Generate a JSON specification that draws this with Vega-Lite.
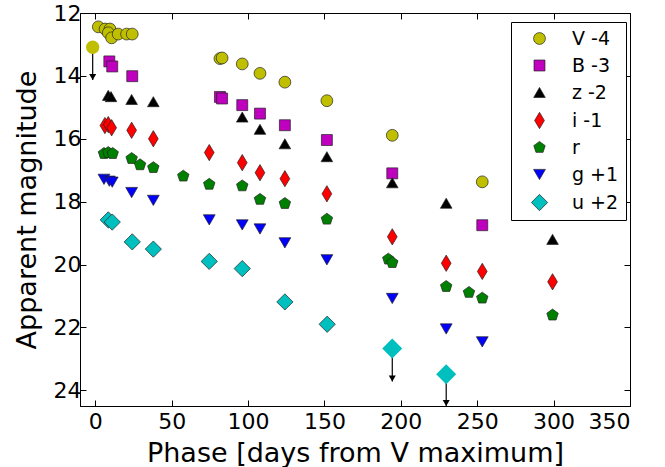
{
  "$schema": "https://vega.github.io/schema/vega-lite/v6.json",
  "autosize": {"type": "none"},
  "width": 550,
  "height": 393,
  "padding": {"left": 80, "top": 13, "right": 35, "bottom": 61},
  "background": "white",
  "config": {
    "font": "DejaVu Sans",
    "view": {"stroke": "black", "strokeWidth": 1},
    "axis": {
      "domainColor": "black",
      "tickColor": "black",
      "labelColor": "black",
      "titleColor": "black",
      "grid": false,
      "labelFont": "DejaVu Sans",
      "titleFont": "DejaVu Sans",
      "titleFontWeight": "normal",
      "labelFontSize": 22,
      "titleFontSize": 27,
      "tickSize": -6,
      "tickWidth": 1
    }
  },
  "datasets": {
    "obs": [
      {"band": "V -4", "phase": 2, "mag": 12.44},
      {"band": "V -4", "phase": 6.4, "mag": 12.51},
      {"band": "V -4", "phase": 9.6, "mag": 12.51},
      {"band": "V -4", "phase": 8.5, "mag": 12.63},
      {"band": "V -4", "phase": 10.7, "mag": 12.79},
      {"band": "V -4", "phase": 15, "mag": 12.67},
      {"band": "V -4", "phase": 20.5, "mag": 12.67},
      {"band": "V -4", "phase": 24.2, "mag": 12.67},
      {"band": "V -4", "phase": 81.6, "mag": 13.45},
      {"band": "V -4", "phase": 83, "mag": 13.43},
      {"band": "V -4", "phase": 96.2, "mag": 13.62},
      {"band": "V -4", "phase": 107.8, "mag": 13.92},
      {"band": "V -4", "phase": 124.1, "mag": 14.2},
      {"band": "V -4", "phase": 151.6, "mag": 14.79},
      {"band": "V -4", "phase": 194.4, "mag": 15.89},
      {"band": "V -4", "phase": 253.3, "mag": 17.37},
      {"band": "B -3", "phase": 9.2, "mag": 13.54},
      {"band": "B -3", "phase": 11.1, "mag": 13.7},
      {"band": "B -3", "phase": 24.2, "mag": 14.01},
      {"band": "B -3", "phase": 81.6, "mag": 14.67},
      {"band": "B -3", "phase": 83, "mag": 14.72},
      {"band": "B -3", "phase": 96.2, "mag": 14.93},
      {"band": "B -3", "phase": 107.8, "mag": 15.2},
      {"band": "B -3", "phase": 124.1, "mag": 15.57},
      {"band": "B -3", "phase": 151.6, "mag": 16.04},
      {"band": "B -3", "phase": 194.4, "mag": 17.1},
      {"band": "B -3", "phase": 253.3, "mag": 18.75},
      {"band": "z -2", "phase": 8.5, "mag": 14.62},
      {"band": "z -2", "phase": 10.3, "mag": 14.66},
      {"band": "z -2", "phase": 23.8, "mag": 14.75},
      {"band": "z -2", "phase": 38, "mag": 14.82},
      {"band": "z -2", "phase": 96.2, "mag": 15.31},
      {"band": "z -2", "phase": 107.8, "mag": 15.7},
      {"band": "z -2", "phase": 124.1, "mag": 16.16},
      {"band": "z -2", "phase": 151.6, "mag": 16.57},
      {"band": "z -2", "phase": 194.4, "mag": 17.4},
      {"band": "z -2", "phase": 229.7, "mag": 18.05},
      {"band": "z -2", "phase": 299.3, "mag": 19.2},
      {"band": "i -1", "phase": 6.3, "mag": 15.58},
      {"band": "i -1", "phase": 8.5, "mag": 15.55},
      {"band": "i -1", "phase": 10.7, "mag": 15.65},
      {"band": "i -1", "phase": 23.8, "mag": 15.73},
      {"band": "i -1", "phase": 38, "mag": 16.0},
      {"band": "i -1", "phase": 74.6, "mag": 16.44},
      {"band": "i -1", "phase": 96.2, "mag": 16.76},
      {"band": "i -1", "phase": 107.8, "mag": 17.08},
      {"band": "i -1", "phase": 124.1, "mag": 17.27},
      {"band": "i -1", "phase": 151.6, "mag": 17.75},
      {"band": "i -1", "phase": 194.4, "mag": 19.12},
      {"band": "i -1", "phase": 229.7, "mag": 19.96},
      {"band": "i -1", "phase": 253.3, "mag": 20.22},
      {"band": "i -1", "phase": 299.3, "mag": 20.55},
      {"band": "r", "phase": 5.7, "mag": 16.47},
      {"band": "r", "phase": 8.5, "mag": 16.44},
      {"band": "r", "phase": 11.4, "mag": 16.47},
      {"band": "r", "phase": 23.8, "mag": 16.63},
      {"band": "r", "phase": 29.3, "mag": 16.83},
      {"band": "r", "phase": 38, "mag": 16.92},
      {"band": "r", "phase": 57.6, "mag": 17.19},
      {"band": "r", "phase": 74.6, "mag": 17.45},
      {"band": "r", "phase": 96.2, "mag": 17.5},
      {"band": "r", "phase": 107.8, "mag": 17.93},
      {"band": "r", "phase": 124.1, "mag": 18.06},
      {"band": "r", "phase": 151.6, "mag": 18.56},
      {"band": "r", "phase": 191.8, "mag": 19.83},
      {"band": "r", "phase": 194.4, "mag": 19.94},
      {"band": "r", "phase": 229.7, "mag": 20.7},
      {"band": "r", "phase": 244.6, "mag": 20.89},
      {"band": "r", "phase": 253.3, "mag": 21.07},
      {"band": "r", "phase": 299.3, "mag": 21.61},
      {"band": "g +1", "phase": 5.7, "mag": 17.29},
      {"band": "g +1", "phase": 9.2, "mag": 17.35},
      {"band": "g +1", "phase": 11.1, "mag": 17.38},
      {"band": "g +1", "phase": 23.8, "mag": 17.71},
      {"band": "g +1", "phase": 38, "mag": 17.96},
      {"band": "g +1", "phase": 74.6, "mag": 18.58},
      {"band": "g +1", "phase": 96.2, "mag": 18.74},
      {"band": "g +1", "phase": 107.8, "mag": 18.87},
      {"band": "g +1", "phase": 124.1, "mag": 19.31},
      {"band": "g +1", "phase": 151.6, "mag": 19.85},
      {"band": "g +1", "phase": 194.4, "mag": 21.08},
      {"band": "g +1", "phase": 229.7, "mag": 22.05},
      {"band": "g +1", "phase": 253.3, "mag": 22.46},
      {"band": "u +2", "phase": 8.5, "mag": 18.58},
      {"band": "u +2", "phase": 11.1, "mag": 18.65},
      {"band": "u +2", "phase": 24.2, "mag": 19.28},
      {"band": "u +2", "phase": 38, "mag": 19.51},
      {"band": "u +2", "phase": 74.6, "mag": 19.9},
      {"band": "u +2", "phase": 96.2, "mag": 20.13},
      {"band": "u +2", "phase": 124.1, "mag": 21.19},
      {"band": "u +2", "phase": 151.8, "mag": 21.9}
    ],
    "limits": [
      {"band": "V -4", "phase": -1.7, "mag": 13.09, "tip": 14.13},
      {"band": "u +2", "phase": 194.4, "mag": 22.67, "tip": 23.72},
      {"band": "u +2", "phase": 229.7, "mag": 23.49, "tip": 24.5}
    ]
  },
  "resolve": {"axis": {"x": "independent", "y": "independent"}},
  "layer": [
    {
      "data": {"name": "obs"},
      "mark": {"type": "point", "filled": true, "opacity": 1, "stroke": "#222222", "strokeWidth": 0.7},
      "encoding": {
        "x": {
          "field": "phase", "type": "quantitative",
          "scale": {"domain": [-10, 350], "nice": false, "zero": false},
          "axis": {"values": [0, 50, 100, 150, 200, 250, 300, 350], "title": "Phase [days from V maximum]", "labelPadding": 11, "titlePadding": 8}
        },
        "y": {
          "field": "mag", "type": "quantitative",
          "scale": {"domain": [12, 24.5], "reverse": true, "nice": false, "zero": false},
          "axis": {"values": [12, 14, 16, 18, 20, 22, 24], "title": "Apparent magnitude", "labelPadding": 5, "titlePadding": 12}
        },
        "color": {
          "field": "band", "type": "nominal", "title": null,
          "scale": {"domain": ["V -4", "B -3", "z -2", "i -1", "r", "g +1", "u +2"],
                    "range": ["#bfbf00", "#bf00bf", "#000000", "#ff0000", "#008000", "#0000ff", "#00bfbf"]},
          "legend": {
            "orient": "none", "legendX": 431, "legendY": 9,
            "strokeColor": "#000000", "fillColor": "white", "padding": 7, "cornerRadius": 0,
            "labelFontSize": 19, "labelFont": "DejaVu Sans", "labelColor": "black",
            "rowPadding": 7, "symbolOffset": 12, "labelOffset": 23,
            "symbolStrokeColor": "#222222", "symbolStrokeWidth": 0.7
          }
        },
        "shape": {
          "field": "band", "type": "nominal", "title": null,
          "scale": {"domain": ["V -4", "B -3", "z -2", "i -1", "r", "g +1", "u +2"],
                    "range": ["circle", "square", "triangle-up", "M-0.6,0L0,-1L0.6,0L0,1Z", "M0,-1L0.951,-0.309L0.588,0.809L-0.588,0.809L-0.951,-0.309Z", "triangle-down", "diamond"]}
        },
        "size": {
          "field": "band", "type": "ordinal", "title": null,
          "scale": {"type": "ordinal", "domain": ["V -4", "B -3", "z -2", "i -1", "r", "g +1", "u +2"],
                    "range": [140, 120, 135, 265, 145, 140, 265]}
        }
      }
    },
    {
      "data": {"name": "limits"},
      "mark": {"type": "rule", "color": "black", "strokeWidth": 1.2},
      "encoding": {
        "x": {"field": "phase", "type": "quantitative",
              "axis": {"orient": "top", "values": [0, 50, 100, 150, 200, 250, 300, 350], "labels": false, "title": null, "domain": false}},
        "y": {"field": "mag", "type": "quantitative",
              "axis": {"orient": "right", "values": [12, 14, 16, 18, 20, 22, 24], "labels": false, "title": null, "domain": false}},
        "y2": {"field": "tip"}
      }
    },
    {
      "data": {"name": "limits"},
      "mark": {"type": "point", "shape": "triangle-down", "filled": true, "color": "black", "opacity": 1, "size": 50, "yOffset": -3},
      "encoding": {
        "x": {"field": "phase", "type": "quantitative", "axis": null},
        "y": {"field": "tip", "type": "quantitative", "axis": null}
      }
    },
    {
      "data": {"name": "limits"},
      "mark": {"type": "point", "filled": true, "opacity": 1, "strokeWidth": 0},
      "encoding": {
        "x": {"field": "phase", "type": "quantitative", "axis": null},
        "y": {"field": "mag", "type": "quantitative", "axis": null},
        "color": {"field": "band", "type": "nominal", "legend": null},
        "shape": {"field": "band", "type": "nominal", "legend": null},
        "size": {"condition": {"test": "datum.band === 'u +2'", "value": 400}, "value": 177}
      }
    }
  ]
}
